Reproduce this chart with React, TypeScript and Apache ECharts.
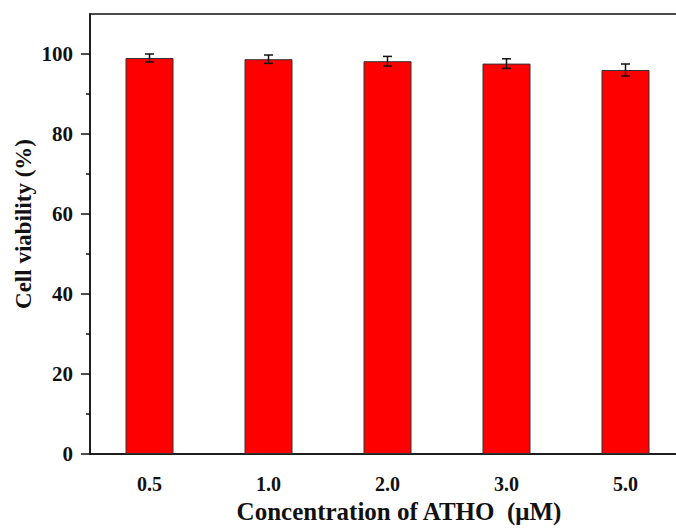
import React, { useEffect, useRef } from "react";
import * as echarts from "echarts";

const concentrations = ["0.5", "1.0", "2.0", "3.0", "5.0"];
const viability = [99.0, 98.7, 98.2, 97.6, 96.0];
const viabilityError = [1.0, 1.05, 1.2, 1.2, 1.5];
const majorTicks = [0, 20, 40, 60, 80, 100];
const minorTicks = [10, 30, 50, 70, 90];

const FONT = "'Liberation Serif', 'Times New Roman', serif";

export default function App() {
  const ref = useRef<HTMLDivElement>(null);

  useEffect(() => {
    if (!ref.current) return;
    const chart = echarts.init(ref.current, null, { renderer: "svg" });

    const errorData = viability.map((v, i) => [i, v - viabilityError[i], v + viabilityError[i]]);

    chart.setOption({
      animation: false,
      backgroundColor: "#ffffff",
      grid: {
        left: 90,
        right: 15,
        top: 14,
        bottom: 74,
        show: true,
        borderColor: "#111",
        borderWidth: 1.5,
        backgroundColor: "transparent",
      },
      xAxis: [
        {
          type: "category",
          data: concentrations,
          axisLine: { lineStyle: { color: "#111", width: 1.5 } },
          axisTick: { alignWithLabel: true, length: 8, lineStyle: { color: "#111", width: 1.5 } },
          axisLabel: {
            margin: 20,
            color: "#111",
            fontFamily: FONT,
            fontWeight: "bold",
            fontSize: 20,
            lineHeight: 20,
          },
          splitLine: { show: false },
        },
        {
          type: "category",
          data: concentrations,
          position: "bottom",
          axisLine: { show: false },
          axisTick: { length: 4, lineStyle: { color: "#111", width: 1.5 } },
          axisLabel: { show: false },
          splitLine: { show: false },
        },
      ],
      yAxis: [
        {
          type: "value",
          min: 0,
          max: 110,
          interval: 10,
          axisLine: { show: true, lineStyle: { color: "#111", width: 1.5 } },
          axisTick: {
            show: true,
            length: 9,
            customValues: majorTicks,
            lineStyle: { color: "#111", width: 1.5 },
          },
          axisLabel: {
            customValues: majorTicks,
            margin: 17,
            color: "#111",
            fontFamily: FONT,
            fontWeight: "bold",
            fontSize: 21,
          },
          splitLine: { show: false },
        },
        {
          type: "value",
          min: 0,
          max: 110,
          interval: 10,
          position: "left",
          axisLine: { show: false },
          axisTick: {
            show: true,
            length: 4,
            customValues: minorTicks,
            lineStyle: { color: "#111", width: 1.5 },
          },
          axisLabel: { show: false },
          splitLine: { show: false },
        },
      ],
      graphic: [
        {
          type: "text",
          x: 23,
          y: 224,
          rotation: Math.PI / 2,
          style: {
            text: "Cell viability (%)",
            fontFamily: FONT,
            fontWeight: "bold",
            fontSize: 23,
            fill: "#111",
            align: "center",
            verticalAlign: "middle",
          },
        },
        {
          type: "text",
          x: 399,
          y: 511,
          style: {
            text: "Concentration of ATHO  (μM)",
            fontFamily: FONT,
            fontWeight: "bold",
            fontSize: 25,
            lineHeight: 25,
            fill: "#111",
            align: "center",
            verticalAlign: "middle",
          },
        },
      ],
      series: [
        {
          type: "bar",
          data: viability,
          barWidth: 48,
          itemStyle: { color: "#ff0000", borderColor: "#333", borderWidth: 1 },
        },
        {
          type: "custom",
          data: errorData,
          z: 5,
          renderItem: (params: any, api: any) => {
            const idx = api.value(0);
            const low = api.coord([idx, api.value(1)]);
            const high = api.coord([idx, api.value(2)]);
            const half = 4.5;
            const style = { stroke: "#111", lineWidth: 1.5 };
            return {
              type: "group",
              children: [
                { type: "line", shape: { x1: low[0], y1: low[1], x2: high[0], y2: high[1] }, style },
                { type: "line", shape: { x1: high[0] - half, y1: high[1], x2: high[0] + half, y2: high[1] }, style },
                { type: "line", shape: { x1: low[0] - half, y1: low[1], x2: low[0] + half, y2: low[1] }, style },
              ],
            };
          },
        },
      ],
    });

    return () => chart.dispose();
  }, []);

  return (
    <div style={{ position: "fixed", left: 0, top: 0, width: 676, height: 528, overflow: "hidden", background: "#fff" }}>
      <div ref={ref} style={{ width: 700, height: 528 }} />
    </div>
  );
}
